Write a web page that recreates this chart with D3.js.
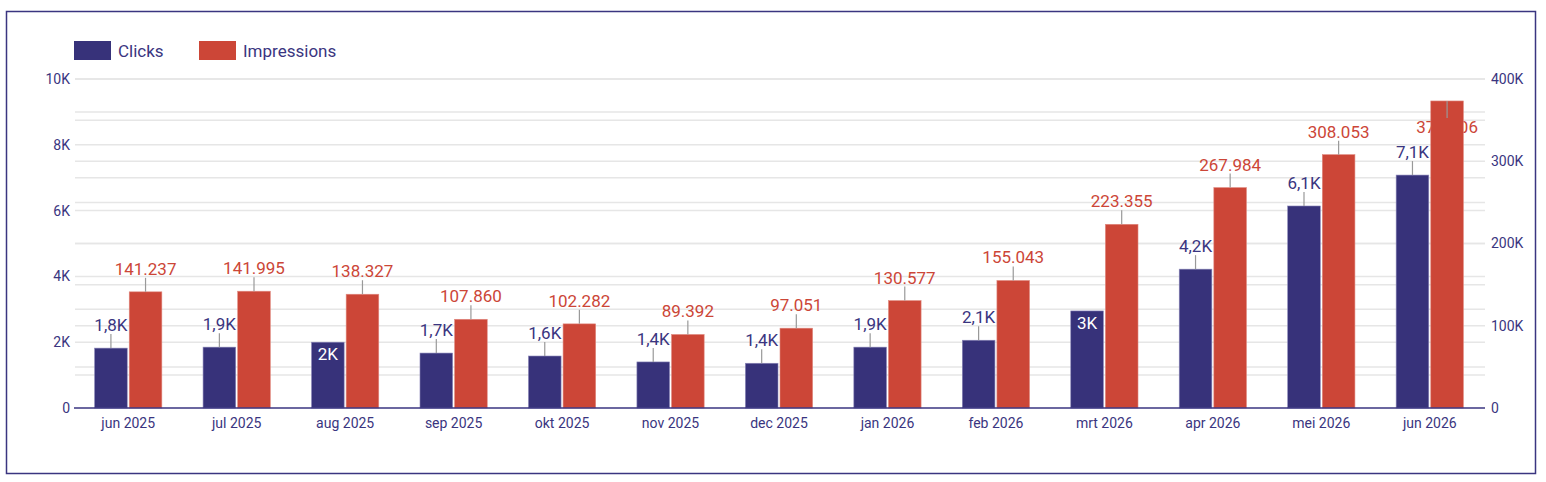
<!DOCTYPE html><html><head><meta charset="utf-8">
<script src="https://cdn.jsdelivr.net/npm/d3@7"></script>
<style>body{margin:0;background:#fff;font-family:Roboto,sans-serif}</style></head><body>
<svg id="c" width="1546" height="482"></svg>
<script>
const months=["jun 2025","jul 2025","aug 2025","sep 2025","okt 2025","nov 2025","dec 2025","jan 2026","feb 2026","mrt 2026","apr 2026","mei 2026","jun 2026"];
const clicks=[1820,1850,2000,1670,1580,1400,1360,1850,2060,2950,4220,6140,7080];
const impressions=[141237,141995,138327,107860,102282,89392,97051,130577,155043,223355,267984,308053,373306];
const leftTicks=[0,2000,4000,6000,8000,10000];
const rightTicks=[0,100000,200000,300000,400000];
const BLUE="#37327a",RED="#cc4637",TXT="#3a3580";
const svg=d3.select("#c");
svg.append("rect").attr("x",6.5).attr("y",11.5).attr("width",1529).attr("height",462).attr("fill","#fff").attr("stroke",TXT).attr("stroke-width",1.5);
const x=d3.scaleBand().domain(months).range([74,1484]).paddingInner(0.38).paddingOuter(0.19);
const yL=d3.scaleLinear().domain([0,10000]).range([408,79]);
const yR=d3.scaleLinear().domain([0,400000]).range([408,79]);
const g=svg.append("g");
d3.range(1000,10001,1000).forEach(v=>g.append("line").attr("x1",75).attr("x2",1485).attr("y1",yL(v)).attr("y2",yL(v)).attr("stroke","#e6e6e6").attr("stroke-width",1.5));
d3.range(50000,400001,50000).forEach(v=>g.append("line").attr("x1",75).attr("x2",1485).attr("y1",yR(v)).attr("y2",yR(v)).attr("stroke","#e6e6e6").attr("stroke-width",1.5));
const la=svg.append("g").attr("transform","translate(70,0)").call(d3.axisLeft(yL).tickValues(leftTicks).tickSize(0).tickPadding(0).tickFormat(d=>d===0?"0":d/1000+"K"));
const ra=svg.append("g").attr("transform","translate(1491,0)").call(d3.axisRight(yR).tickValues(rightTicks).tickSize(0).tickPadding(0).tickFormat(d=>d===0?"0":d/1000+"K"));
const xa=svg.append("g").attr("transform","translate(0,408)").call(d3.axisBottom(x).tickSize(0).tickPadding(10));
[la,ra,xa].forEach(a=>{a.select(".domain").remove();a.selectAll("text").attr("fill",TXT).attr("font-size",14).attr("font-family","Roboto");});
const bw=x.bandwidth()/2-1;
const fmtC=v=>{const k=Math.round(v/100)/10;return (Number.isInteger(k)?k:k.toFixed(1).replace(".",","))+"K";};
const fmtI=v=>d3.format(",")(v).replace(/,/g,".");
// labels under bars for impressions
months.forEach((m,i)=>{
  const cx=x(m)+bw+2+bw/2, top=yR(impressions[i]);
  let lc=top-23, capped=false; if(lc<127){lc=127;capped=true;}
  svg.append("text").attr("x",cx).attr("y",lc+6).attr("text-anchor","middle").attr("fill",RED).attr("font-size",17).text(fmtI(impressions[i]));
  svg.datum({cx,top,lc,capped});
  svg.append("rect").attr("x",x(m)+bw+2).attr("y",top).attr("width",bw).attr("height",408-top).attr("fill",RED).attr("stroke","#e08a80").attr("stroke-width",0.6);
  svg.append("line").attr("x1",cx).attr("x2",cx).attr("y1",top).attr("y2",capped?lc-9:lc+9).attr("stroke","#999").attr("stroke-width",1.2);
});
months.forEach((m,i)=>{
  const x0=x(m), cx=x0+bw/2, top=yL(clicks[i]), lab=fmtC(clicks[i]);
  svg.append("rect").attr("x",x0).attr("y",top).attr("width",bw).attr("height",408-top).attr("fill",BLUE).attr("stroke","#8a86b8").attr("stroke-width",0.6);
  if(!lab.includes(",")){
    svg.append("text").attr("x",cx).attr("y",top+18).attr("text-anchor","middle").attr("fill","#fff").attr("font-size",17).text(lab);
  } else {
    const lc=top-23;
    svg.append("line").attr("x1",cx).attr("x2",cx).attr("y1",top).attr("y2",lc+9).attr("stroke","#999").attr("stroke-width",1.2);
    svg.append("text").attr("x",cx).attr("y",lc+6).attr("text-anchor","middle").attr("fill",TXT).attr("font-size",17).text(lab);
  }
});
svg.append("line").attr("x1",74).attr("x2",1485).attr("y1",408).attr("y2",408).attr("stroke",TXT).attr("stroke-width",1.5);
const lg=svg.append("g");
[["Clicks",BLUE,74],["Impressions",RED,199]].forEach(([t,c,lx])=>{
  lg.append("rect").attr("x",lx).attr("y",41).attr("width",37).attr("height",19).attr("fill",c);
  lg.append("text").attr("x",lx+44).attr("y",57).attr("fill",TXT).attr("font-size",17).text(t);
});
</script></body></html>
